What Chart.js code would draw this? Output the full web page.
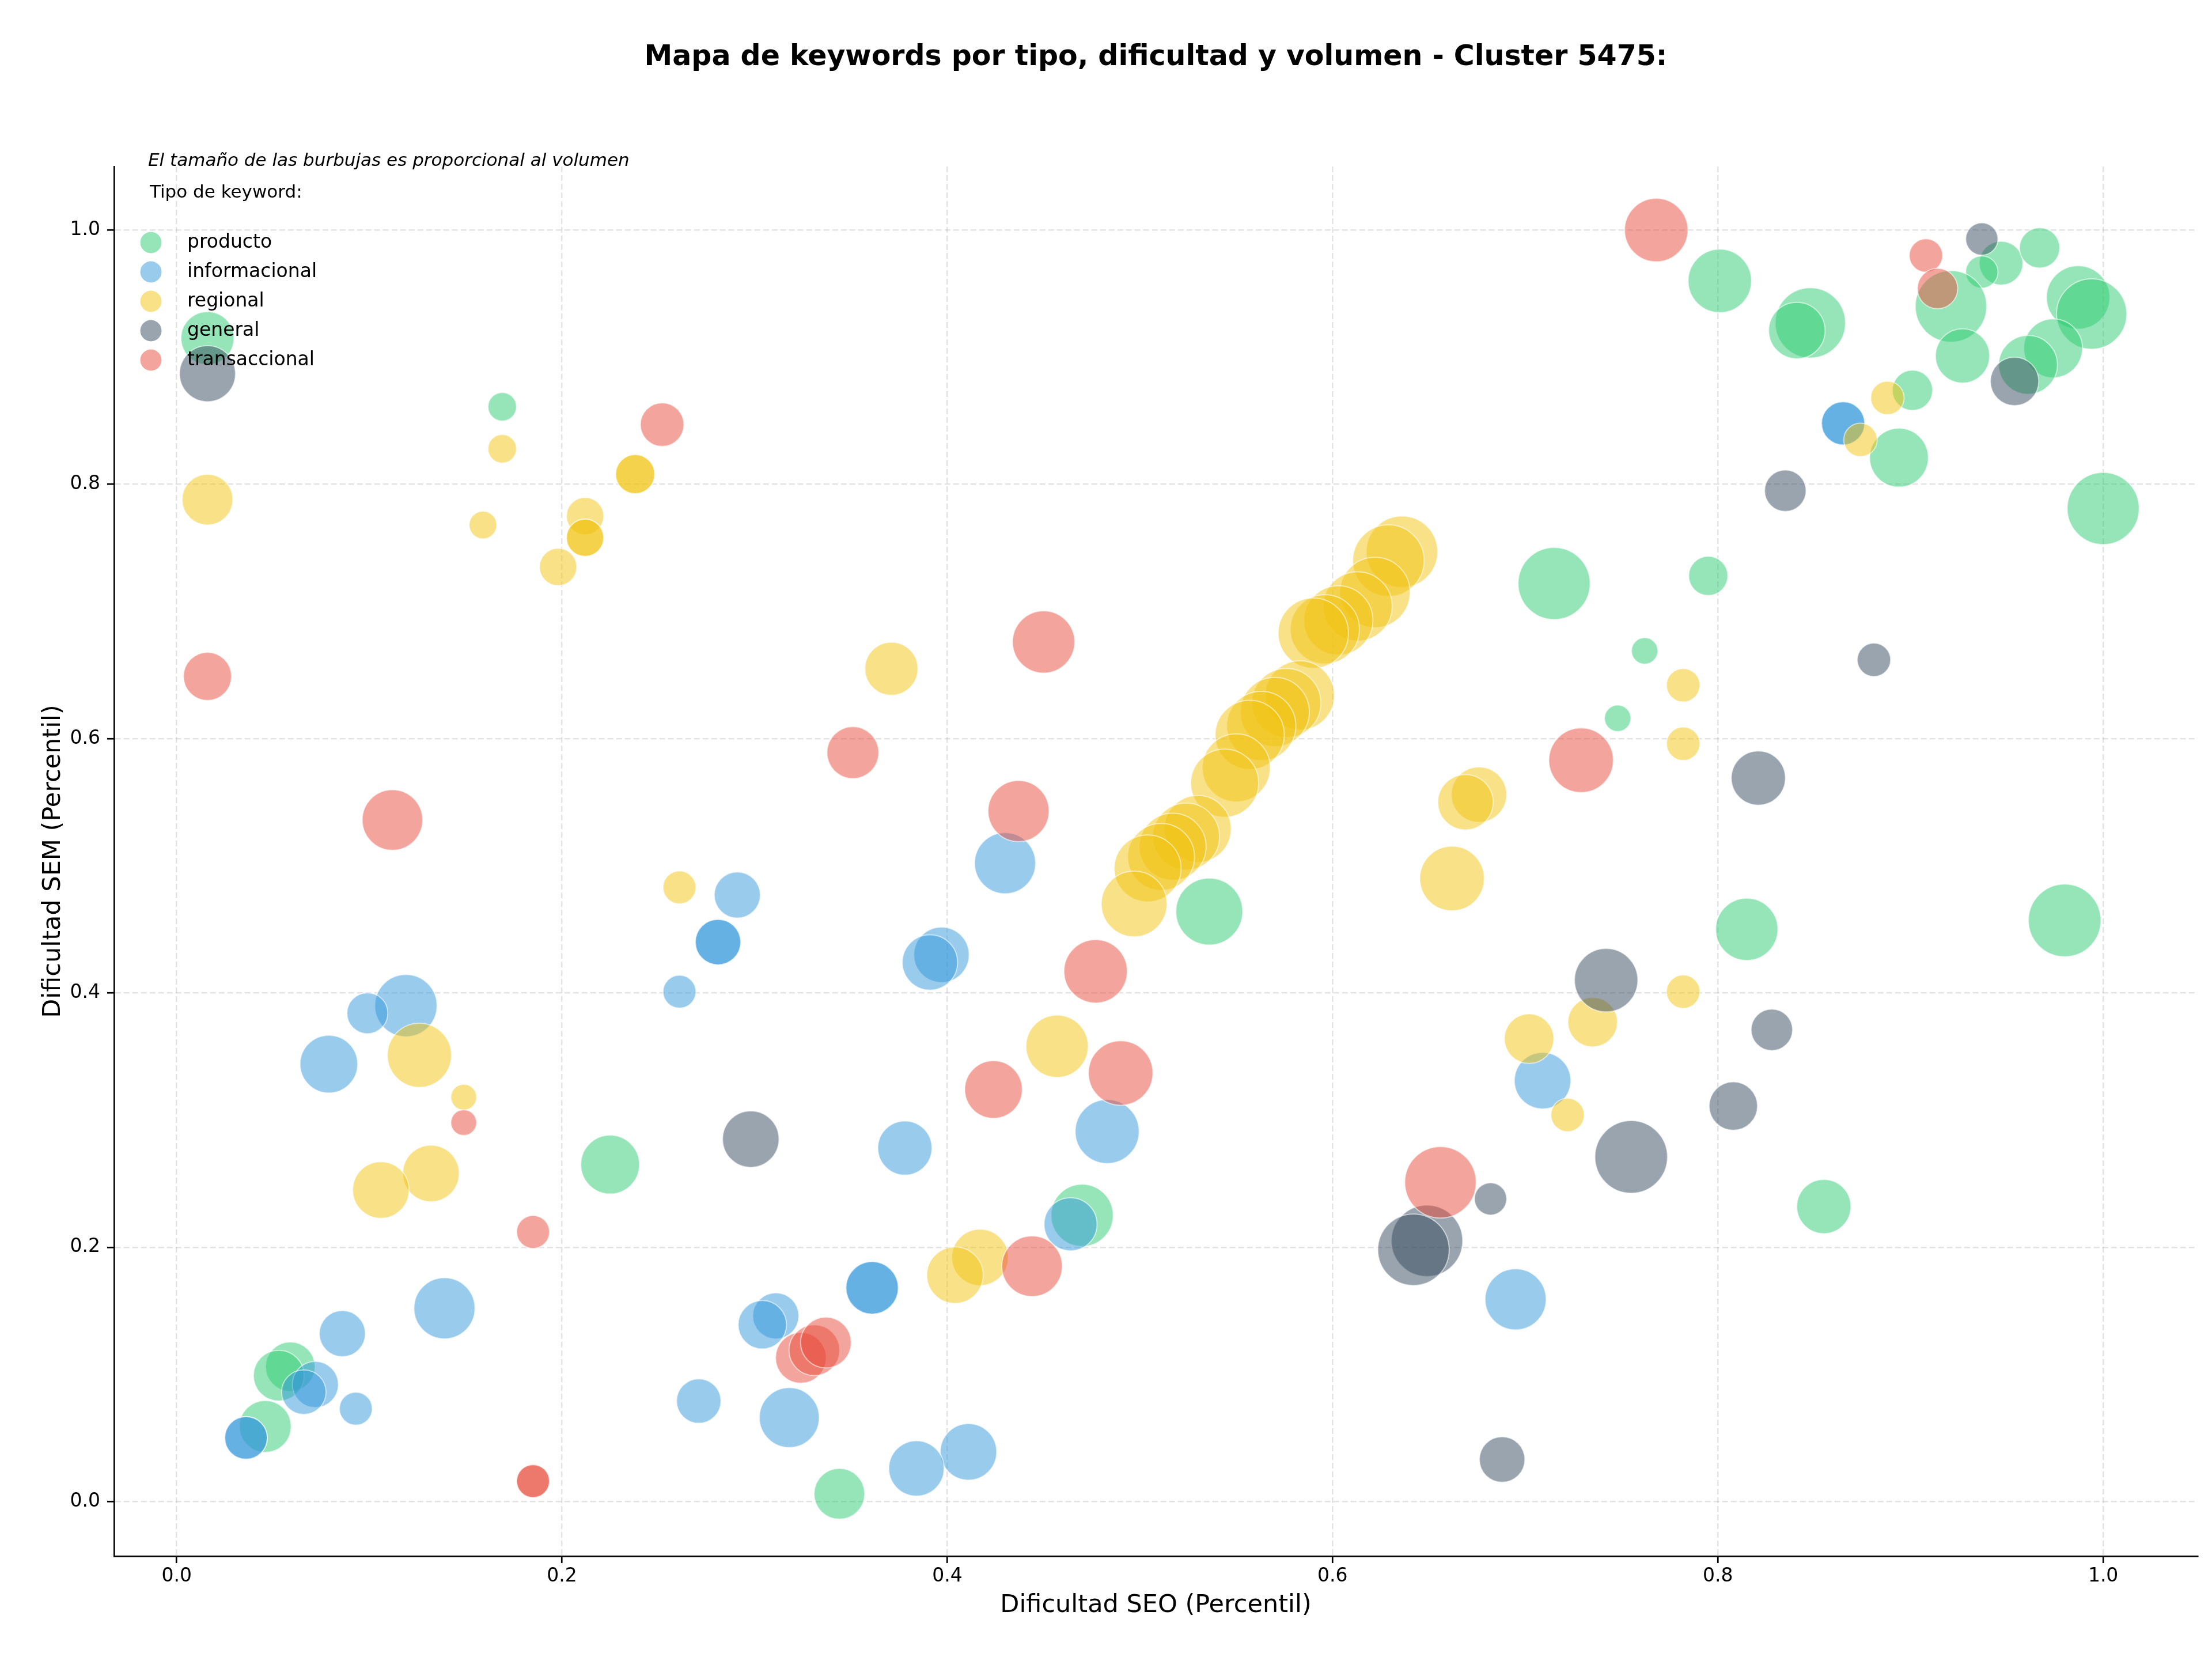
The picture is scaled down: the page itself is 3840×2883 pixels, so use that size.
<!DOCTYPE html>
<html>
<head>
<meta charset="utf-8">
<script src="https://cdn.jsdelivr.net/npm/chart.js@4.4.0/dist/chart.umd.min.js"></script>
<style>
  html, body { margin: 0; padding: 0; background: #fff; overflow: hidden; }
  #wrap { width: 3840px; height: 2883px; position: relative; }
</style>
</head>
<body>
<div id="wrap"><canvas id="mapaChart"></canvas></div>
<script>
// Datos: dificultad SEO (x), dificultad SEM (y), volumen (area de la burbuja)
var tipos = ['producto', 'informacional', 'regional', 'general', 'transaccional']
var marcas = [0, 0.2, 0.4, 0.6, 0.8, 1.0]

var productoSeo = [0.016, 0.169, 0.801, 0.848, 0.841, 0.947, 0.937, 0.967, 0.921, 0.927, 0.987, 0.994, 0.974, 0.961, 0.901, 0.894, 1.000, 0.715, 0.795, 0.762, 0.748, 0.815, 0.980, 0.855, 0.536, 0.470, 0.225, 0.059, 0.053, 0.046, 0.344]
var productoSem = [0.915, 0.861, 0.960, 0.927, 0.921, 0.974, 0.967, 0.986, 0.940, 0.901, 0.947, 0.934, 0.907, 0.894, 0.874, 0.821, 0.781, 0.722, 0.728, 0.669, 0.616, 0.450, 0.457, 0.232, 0.464, 0.225, 0.265, 0.106, 0.099, 0.059, 0.006]
var productoVol = [529, 153, 756, 930, 600, 361, 196, 306, 961, 552, 756, 930, 650, 650, 306, 650, 977, 977, 289, 132, 132, 729, 992, 552, 841, 729, 650, 462, 484, 506, 484]

var informacionalSeo = [0.291, 0.281, 0.281, 0.261, 0.119, 0.099, 0.079, 0.139, 0.086, 0.072, 0.066, 0.093, 0.036, 0.036, 0.311, 0.304, 0.271, 0.318, 0.430, 0.397, 0.391, 0.483, 0.378, 0.464, 0.361, 0.361, 0.411, 0.384, 0.865, 0.865, 0.709, 0.695]
var informacionalSem = [0.477, 0.440, 0.440, 0.401, 0.390, 0.384, 0.344, 0.152, 0.132, 0.092, 0.086, 0.073, 0.050, 0.050, 0.146, 0.139, 0.079, 0.066, 0.502, 0.430, 0.424, 0.291, 0.278, 0.218, 0.168, 0.168, 0.039, 0.026, 0.848, 0.848, 0.331, 0.159]
var informacionalVol = [400, 390, 390, 204, 729, 315, 625, 702, 400, 400, 372, 204, 342, 342, 400, 441, 372, 676, 702, 576, 576, 770, 552, 529, 518, 518, 600, 576, 352, 352, 600, 702]

var regionalSeo = [0.169, 0.238, 0.238, 0.016, 0.159, 0.212, 0.212, 0.212, 0.198, 0.371, 0.676, 0.669, 0.662, 0.636, 0.629, 0.622, 0.613, 0.603, 0.596, 0.590, 0.583, 0.576, 0.570, 0.563, 0.557, 0.550, 0.544, 0.530, 0.524, 0.517, 0.511, 0.504, 0.497, 0.261, 0.126, 0.149, 0.132, 0.106, 0.457, 0.417, 0.404, 0.888, 0.874, 0.782, 0.782, 0.782, 0.735, 0.702, 0.722]
var regionalSem = [0.828, 0.808, 0.808, 0.788, 0.768, 0.775, 0.758, 0.758, 0.735, 0.655, 0.556, 0.550, 0.490, 0.747, 0.740, 0.715, 0.704, 0.693, 0.686, 0.683, 0.634, 0.628, 0.621, 0.610, 0.603, 0.577, 0.565, 0.529, 0.523, 0.515, 0.507, 0.498, 0.470, 0.483, 0.351, 0.318, 0.258, 0.245, 0.358, 0.192, 0.178, 0.868, 0.835, 0.642, 0.596, 0.401, 0.377, 0.364, 0.304]
var regionalVol = [153, 289, 289, 484, 144, 262, 262, 262, 262, 529, 576, 576, 784, 961, 961, 930, 900, 900, 900, 930, 900, 900, 900, 900, 900, 870, 870, 841, 841, 841, 841, 841, 812, 204, 773, 125, 600, 600, 729, 600, 600, 210, 210, 210, 210, 210, 462, 462, 210]

var generalSeo = [0.016, 0.937, 0.954, 0.835, 0.881, 0.821, 0.742, 0.828, 0.808, 0.755, 0.682, 0.649, 0.642, 0.688, 0.298]
var generalSem = [0.887, 0.993, 0.881, 0.795, 0.662, 0.569, 0.410, 0.371, 0.311, 0.271, 0.238, 0.205, 0.198, 0.033, 0.285]
var generalVol = [590, 196, 441, 324, 210, 552, 756, 324, 441, 992, 196, 961, 961, 390, 600]

var transaccionalSeo = [0.768, 0.908, 0.914, 0.729, 0.252, 0.016, 0.112, 0.450, 0.351, 0.437, 0.477, 0.490, 0.424, 0.656, 0.444, 0.324, 0.331, 0.337, 0.149, 0.185, 0.185, 0.185]
var transaccionalSem = [1.000, 0.980, 0.954, 0.583, 0.847, 0.649, 0.536, 0.676, 0.589, 0.543, 0.417, 0.337, 0.324, 0.251, 0.185, 0.113, 0.119, 0.125, 0.298, 0.212, 0.016, 0.016]
var transaccionalVol = [756, 210, 306, 784, 357, 435, 689, 729, 506, 702, 756, 784, 625, 961, 689, 484, 484, 484, 125, 204, 204, 204]

var colores = ['rgba(46,204,113,0.5)', 'rgba(52,152,219,0.5)', 'rgba(241,196,15,0.5)', 'rgba(52,73,94,0.5)', 'rgba(231,76,60,0.5)']

var titulo = 'Mapa de keywords por tipo, dificultad y volumen - Cluster 5475:'
var nota = 'El tamaño de las burbujas es proporcional al volumen'

function puntos(seo, sem, vol) {
    // radio en pixeles a partir del volumen (area proporcional)
    return seo.map(function (x, i) {
        return { x: x, y: sem[i], r: Math.sqrt(vol[i]) * 2 }
    })
}

var series = [
    puntos(productoSeo, productoSem, productoVol),
    puntos(informacionalSeo, informacionalSem, informacionalVol),
    puntos(regionalSeo, regionalSem, regionalVol),
    puntos(generalSeo, generalSem, generalVol),
    puntos(transaccionalSeo, transaccionalSem, transaccionalVol)
]

var datasets = tipos.map(function (tipo, i) {
    return {
        label: tipo,
        data: series[i],
        backgroundColor: colores[i],
        borderColor: 'rgba(255,255,255,0.55)',
        borderWidth: 2,
        order: tipos.length - i
    }
})

var fuente = '"DejaVu Sans", "Liberation Sans", sans-serif'

// textos de cabecera y leyenda sin marco
var textos = {
    id: 'textos',
    afterDraw: function (chart) {
        var ctx = chart.ctx
        var area = chart.chartArea
        ctx.save()
        ctx.fillStyle = '#000'
        ctx.textBaseline = 'middle'

        ctx.textAlign = 'center'
        ctx.font = 'bold 49px ' + fuente
        ctx.fillText(titulo, (area.left + area.right) / 2, 100)

        ctx.textAlign = 'left'
        ctx.font = 'italic 31px ' + fuente
        ctx.fillText(nota, 257, 280)

        ctx.font = '31px ' + fuente
        ctx.fillText('Tipo de keyword:', 260, 335)

        chart.data.datasets.forEach(function (ds, i) {
            var y = 421 + i * 51
            ctx.beginPath()
            ctx.arc(262, y, 18.5, 0, Math.PI * 2)
            ctx.fillStyle = ds.backgroundColor
            ctx.fill()
            ctx.fillStyle = '#000'
            ctx.font = '33px ' + fuente
            ctx.fillText(ds.label, 325, y)
        })
        ctx.restore()
    }
}

function ejeComun() {
    return {
        type: 'linear',
        z: 1,
        afterBuildTicks: function (scale) {
            scale.ticks = marcas.map(function (v) { return { value: v } })
        },
        grid: {
            color: 'rgba(176,176,176,0.35)',
            lineWidth: 2.5,
            tickColor: '#000',
            tickWidth: 2.7,
            tickLength: 12,
            tickBorderDash: []
        },
        border: { display: true, color: '#000', width: 2.7, dash: [10, 5] },
        ticks: {
            color: '#000',
            autoSkip: false,
            maxRotation: 0,
            font: { family: fuente, size: 33 },
            callback: function (v) { return Number(v).toFixed(1) }
        }
    }
}

var ejeX = ejeComun()
ejeX.min = -0.0325
ejeX.max = 1.049
ejeX.afterFit = function (scale) {
    scale.height = 182
    scale.paddingLeft = 0
    scale.paddingRight = 0
}
ejeX.ticks.padding = 4
ejeX.title = {
    display: true,
    text: 'Dificultad SEO (Percentil)',
    color: '#000',
    font: { family: fuente, size: 43 },
    padding: { top: 0, bottom: 70 }
}

var ejeY = ejeComun()
ejeY.min = -0.043
ejeY.max = 1.05
ejeY.afterFit = function (scale) {
    scale.width = 198
    scale.paddingTop = 0
    scale.paddingBottom = 0
}
ejeY.ticks.padding = 12
ejeY.title = {
    display: true,
    text: 'Dificultad SEM (Percentil)',
    color: '#000',
    font: { family: fuente, size: 43 },
    padding: { top: 67, bottom: 0 }
}

var canvas = document.getElementById('mapaChart')

var mapaChart = new Chart(canvas, {
    type: 'bubble',
    data: { datasets: datasets },
    options: {
        responsive: true,
        maintainAspectRatio: false,
        devicePixelRatio: 1,
        animation: false,
        layout: {
            autoPadding: false,
            padding: { top: 289, right: 25, left: 0, bottom: 0 }
        },
        plugins: {
            legend: { display: false },
            tooltip: { enabled: false }
        },
        scales: { x: ejeX, y: ejeY }
    },
    plugins: [textos]
})
</script>
</body>
</html>
